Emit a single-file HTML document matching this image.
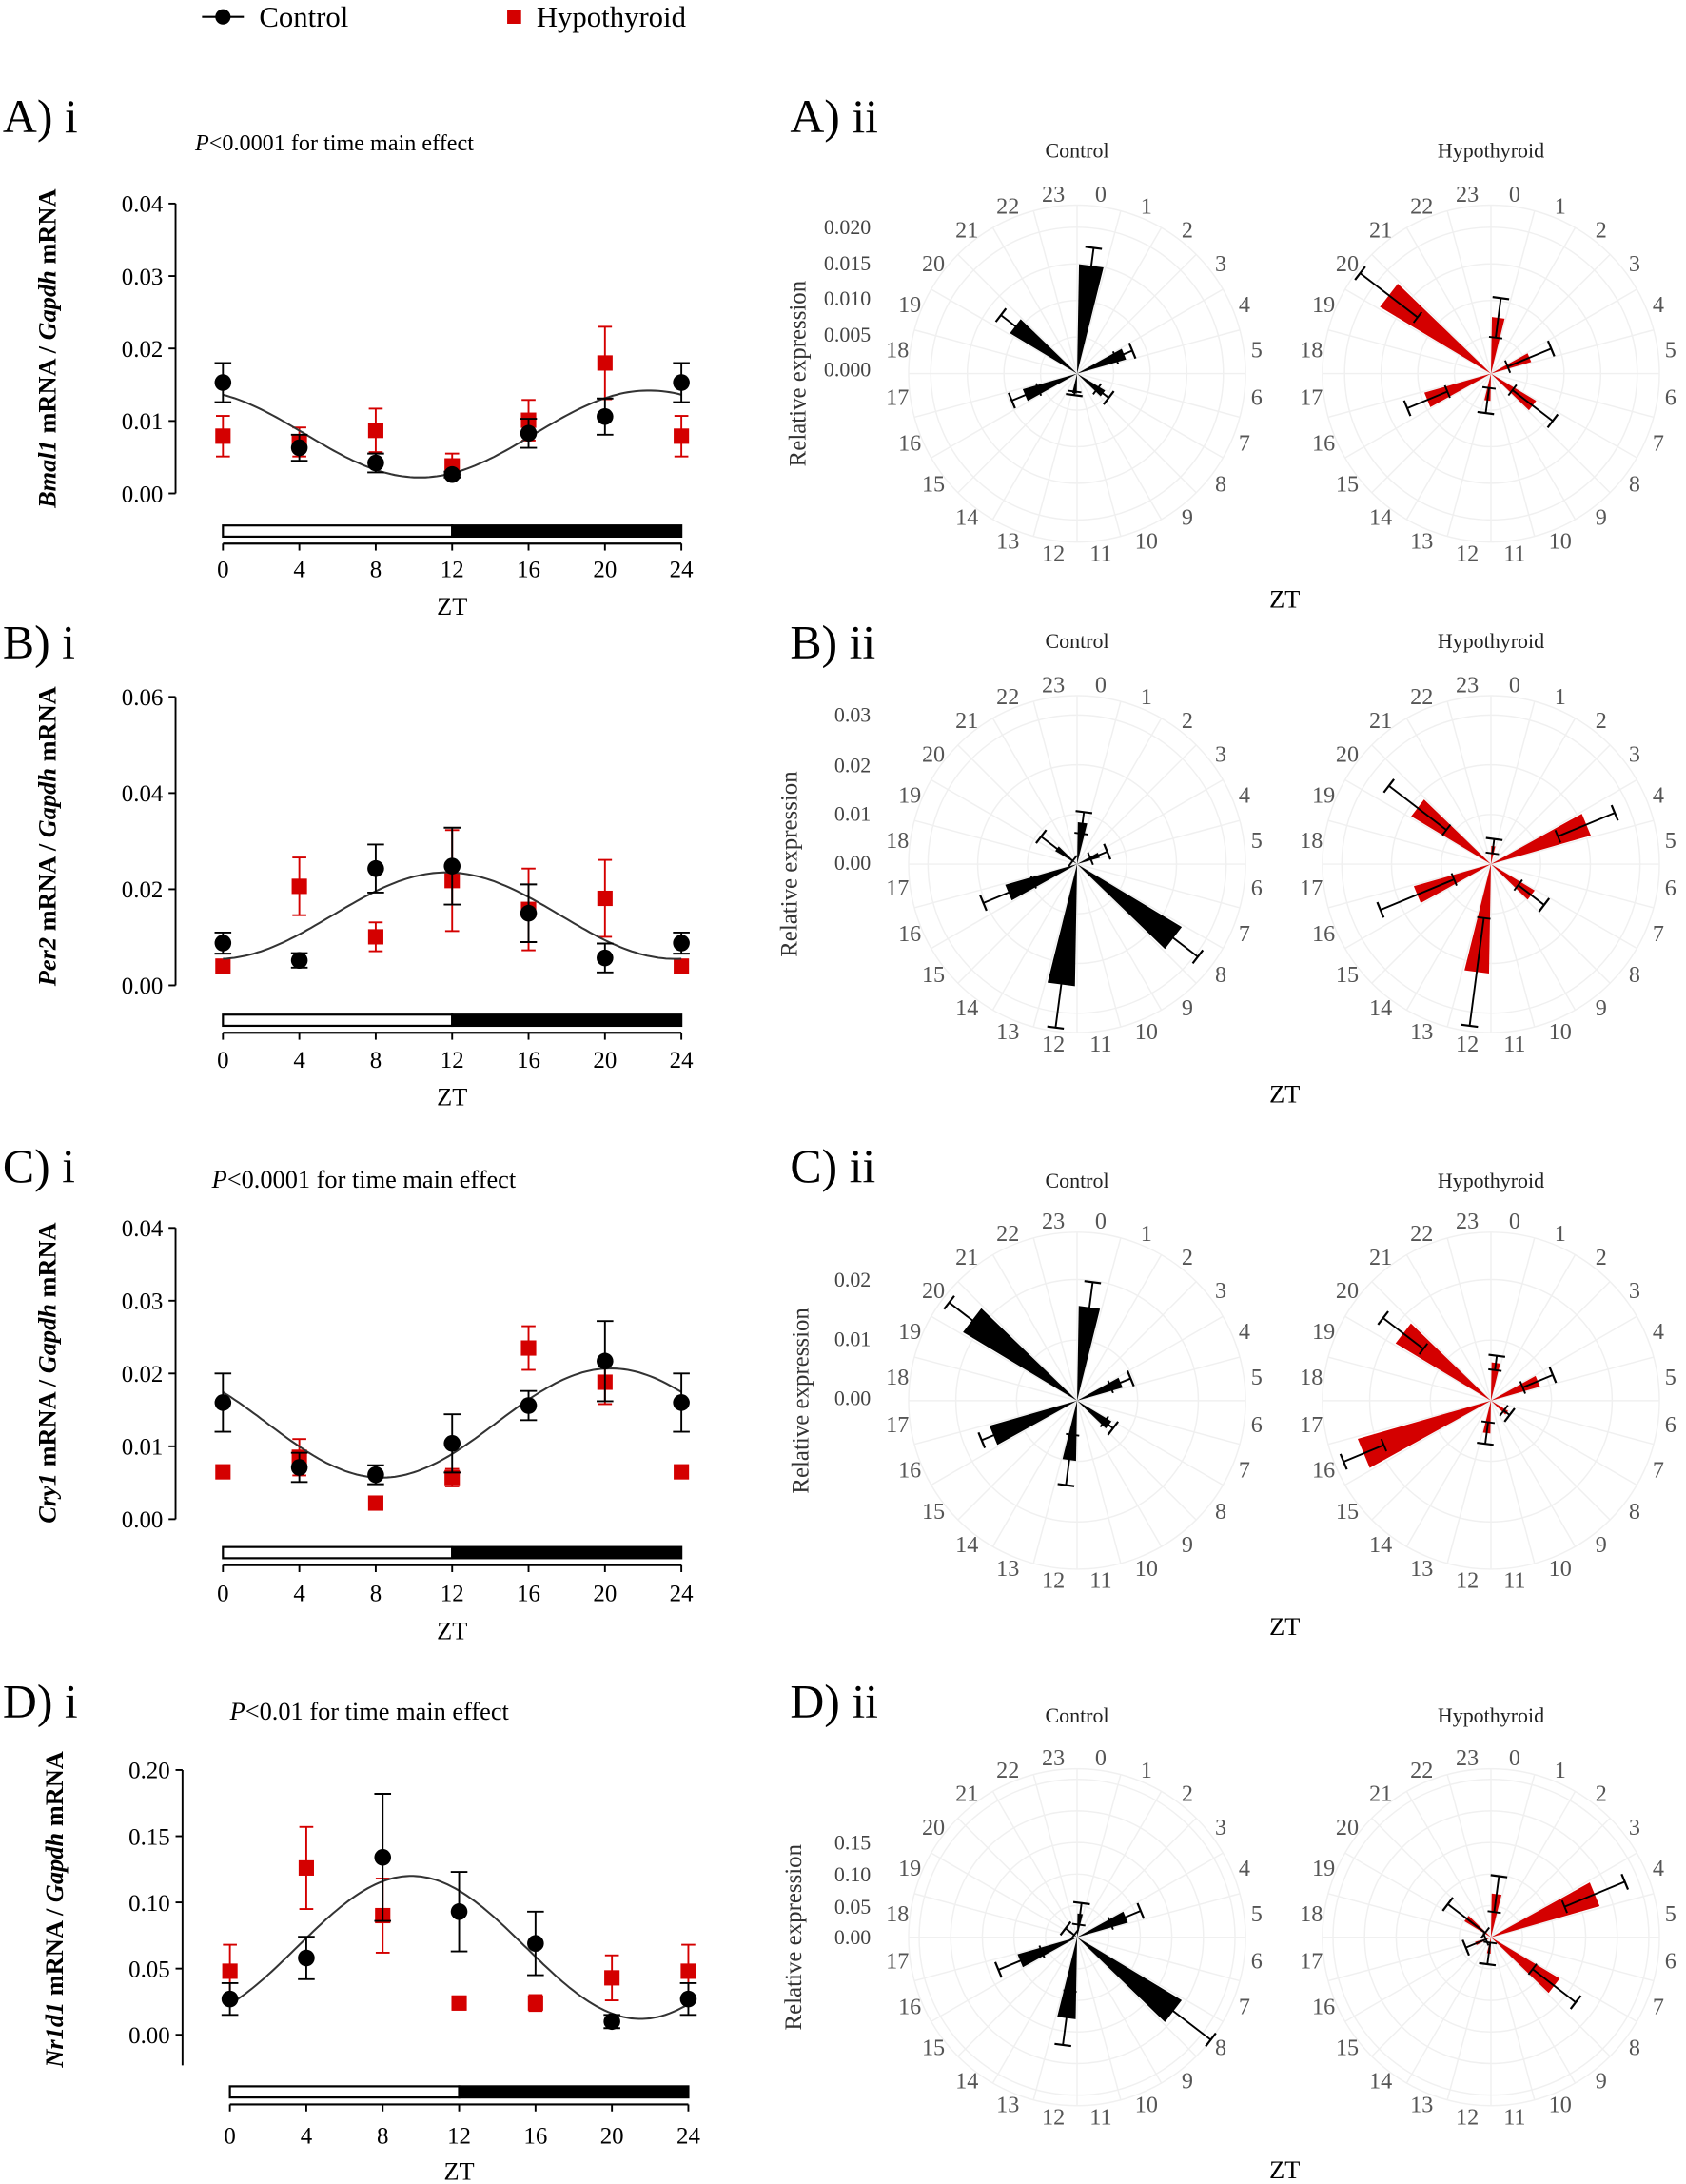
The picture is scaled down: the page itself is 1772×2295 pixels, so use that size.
<!DOCTYPE html>
<html><head><meta charset="utf-8"><style>
html,body{margin:0;padding:0;background:#fff}
svg{display:block}
text{font-family:"Liberation Serif",serif}
</style></head><body>
<svg id="s" width="1772" height="2295" viewBox="0 0 1210 1567" xmlns="http://www.w3.org/2000/svg"></svg>
<script>
const S=document.getElementById('s');let h='';
function t(x,y,s,str,o){o=o||{};h+=`<text x="${x}" y="${y}" font-size="${s}" fill="${o.f||'#000'}" text-anchor="${o.a||'start'}"${o.tr?` transform="${o.tr}"`:''}${o.w?` font-weight="${o.w}"`:''}>${str}</text>`;}
function l(x1,y1,x2,y2,c,w){h+=`<line x1="${x1}" y1="${y1}" x2="${x2}" y2="${y2}" stroke="${c||'#000'}" stroke-width="${w||1.3}"/>`;}
l(145,12,175,12,'#000',1.5);h+=`<circle cx="160" cy="12" r="5.5"/>`;t(186,19,21,'Control');
h+=`<rect x="364" y="7" width="10" height="10" fill="#d40000"/>`;t(385,19,21,'Hypothyroid');
const R='#d40000';
const panels=[
 {lab:'A) i',ly:95,ax:126,x0:160,x1:489,y0:354,ymax:.04,yt:[0,.01,.02,.03,.04],dec:2,top:146,bar:377,tl:408,zt:435,gene:'Bmal1',gy:250,
  p:['<tspan font-style="italic">P</tspan>&lt;0.0001 for time main effect',140,108,16.5],
  c:[[.0153,.0027],[.0063,.0018],[.0042,.0013],[.0026,.0004],[.0083,.002],[.0106,.0025],[.0153,.0027]],
  r:[[.0079,.0028],[.0071,.002],[.0087,.003],[.0038,.0017],[.0101,.0028],[.018,.005],[.0079,.0028]],
  cv:[.0082,.006,22.3]},
 {lab:'B) i',ly:472,ax:126,x0:160,x1:489,y0:707,ymax:.06,yt:[0,.02,.04,.06],dec:2,top:500,bar:728,tl:760,zt:787,gene:'Per2',gy:600,
  c:[[.0088,.0022],[.0052,.0015],[.0243,.005],[.0248,.008],[.015,.006],[.0057,.003],[.0088,.0022]],
  r:[[.004,.001],[.0206,.006],[.0101,.003],[.0218,.0105],[.0158,.0085],[.0181,.008],[.004,.001]],
  cv:[.0145,.009,11.7]},
 {lab:'C) i',ly:848,ax:126,x0:160,x1:489,y0:1090,ymax:.04,yt:[0,.01,.02,.03,.04],dec:2,top:881,bar:1110,tl:1143,zt:1170,gene:'Cry1',gy:985,
  p:['<tspan font-style="italic">P</tspan>&lt;0.0001 for time main effect',152,852,18],
  c:[[.016,.004],[.0071,.002],[.0061,.0013],[.0104,.004],[.0156,.002],[.0217,.0055],[.016,.004]],
  r:[[.0065,.0008],[.0085,.0025],[.0022,.0008],[.0057,.0012],[.0235,.003],[.0188,.003],[.0065,.0008]],
  cv:[.0132,.0075,20.3]},
 {lab:'D) i',ly:1232,ax:131,x0:165,x1:494,y0:1460,ymax:.2,yt:[0,.05,.1,.15,.2],dec:2,top:1270,bot:1482,bar:1497,tl:1532,zt:1558,gene:'Nr1d1',gy:1370,
  p:['<tspan font-style="italic">P</tspan>&lt;0.01 for time main effect',165,1234,18],
  c:[[.027,.012],[.058,.016],[.134,.048],[.093,.03],[.069,.024],[.01,.005],[.027,.012]],
  r:[[.048,.02],[.126,.031],[.09,.028],[.024,.005],[.024,.006],[.043,.017],[.048,.02]],
  cv:[.066,.054,9.5]}
];
panels.forEach(P=>{
 const X=z=>P.x0+(P.x1-P.x0)*z/24, Y=v=>P.y0-(P.y0-P.top)*v/P.ymax;
 t(2,P.ly,34,P.lab);
 if(P.p)h+=`<text x="${P.p[1]}" y="${P.p[2]}" font-size="${P.p[3]}">${P.p[0]}</text>`;
 l(P.ax,P.top,P.ax,P.bot||P.y0);
 P.yt.forEach(v=>{const y=Y(v);l(P.ax-5,y,P.ax,y);t(P.ax-9,y+6,17,v.toFixed(2),{a:'end'});});
 h+=`<text transform="translate(${P.ax-86},${P.gy}) rotate(-90)" font-size="18" font-weight="bold" text-anchor="middle"><tspan font-style="italic">${P.gene}</tspan> mRNA / <tspan font-style="italic">Gapdh</tspan> mRNA</text>`;
 h+=`<rect x="${P.x0}" y="${P.bar}" width="${X(12)-P.x0}" height="8" fill="#fff" stroke="#000" stroke-width="1.5"/>`;
 h+=`<rect x="${X(12)}" y="${P.bar}" width="${P.x1-X(12)}" height="8" fill="#000" stroke="#000" stroke-width="1.5"/>`;
 const ay=P.bar+13; l(P.x0,ay,P.x1,ay,'#000',1.5);
 for(let z=0;z<=24;z+=4){l(X(z),ay,X(z),ay+5);t(X(z),P.tl+6,17,z,{a:'middle'});}
 t((P.x0+P.x1)/2,P.zt+6,18,'ZT',{a:'middle'});
 let d='';for(let i=0;i<=120;i++){const z=i/5;const v=P.cv[0]+P.cv[1]*Math.cos((z-P.cv[2])/24*2*Math.PI);d+=(i?'L':'M')+X(z).toFixed(1)+','+Y(v).toFixed(1);}
 P.r.forEach((m,i)=>{const x=X(i*4);l(x,Y(m[0]-m[1]),x,Y(m[0]+m[1]),R,1.3);l(x-5,Y(m[0]+m[1]),x+5,Y(m[0]+m[1]),R);l(x-5,Y(m[0]-m[1]),x+5,Y(m[0]-m[1]),R);h+=`<rect x="${x-5.5}" y="${Y(m[0])-5.5}" width="11" height="11" fill="${R}"/>`;});
 h+=`<path d="${d}" fill="none" stroke="#333" stroke-width="1.4"/>`;
 P.c.forEach((m,i)=>{const x=X(i*4);l(x,Y(m[0]-m[1]),x,Y(m[0]+m[1]));l(x-6,Y(m[0]+m[1]),x+6,Y(m[0]+m[1]));l(x-6,Y(m[0]-m[1]),x+6,Y(m[0]-m[1]));h+=`<circle cx="${x}" cy="${Y(m[0])}" r="6"/>`;});
});
const polars=[
 {lab:'A) ii',ly:95,cy:268,ty:108,zt:430,ry:[[.02,163],[.015,189],[.01,214],[.005,240],[0,265]],fmt:3,rx:578,
  c:[[.60,.70],[.28,.33],[.18,.22],[.11,.12],[.31,.39],[.43,.53]],
  r:[[.31,.42],[.23,.36],[.29,.43],[.15,.22],[.38,.50],[.71,.91]]},
 {lab:'B) ii',ly:472,cy:620,ty:460,zt:785,ry:[[.03,513],[.02,549],[.01,584],[0,619]],fmt:2,rx:572,
  c:[[.23,.29],[.13,.18],[.67,.84],[.67,.91],[.41,.56],[.14,.25]],
  r:[[.10,.14],[.57,.74],[.28,.37],[.60,.90],[.44,.66],[.51,.71]]},
 {lab:'C) ii',ly:848,cy:1005,ty:847,zt:1167,ry:[[.02,918],[.01,961],[0,1003]],fmt:2,rx:580,
  c:[[.52,.66],[.26,.32],[.22,.25],[.33,.47],[.50,.57],[.73,.89]],
  r:[[.21,.25],[.28,.37],[.11,.13],[.18,.24],[.76,.88],[.61,.75]]},
 {lab:'D) ii',ly:1232,cy:1390,ty:1231,zt:1557,ry:[[.15,1322],[.1,1345],[.05,1368],[0,1390]],fmt:2,rx:575,
  c:[[.13,.19],[.29,.38],[.67,.93],[.45,.60],[.34,.47],[.05,.08]],
  r:[[.24,.34],[.62,.80],[.44,.59],[.09,.15],[.09,.15],[.17,.30]]}
];
const RL=130;
function pt(cx,cy,a,r){const rad=a*Math.PI/180;return [cx+r*Math.sin(rad),cy-r*Math.cos(rad)];}
polars.forEach(Q=>{
 t(567,Q.ly,34,Q.lab);
 t(922,Q.zt+6,18,'ZT',{a:'middle'});
 h+=`<text transform="translate(${Q.rx},${Q.cy}) rotate(-90)" font-size="17" fill="#333" text-anchor="middle">Relative expression</text>`;
 Q.ry.forEach(([v,y])=>t(625,y+5,15,v.toFixed(Q.fmt),{a:'end',f:'#444'}));
 const step=(Q.cy-Q.ry[0][1])/(Q.ry.length-1);
 [[773,'Control','c'],[1070,'Hypothyroid','r']].forEach(([cx,name,k])=>{
  t(cx,Q.ty+5,15,name,{a:'middle',f:'#222'});
  for(let r=step;r<=RL*0.93;r+=step)h+=`<circle cx="${cx}" cy="${Q.cy}" r="${r}" fill="none" stroke="#f0f0f0" stroke-width="1"/>`;
  h+=`<circle cx="${cx}" cy="${Q.cy}" r="${RL*0.93}" fill="none" stroke="#f0f0f0" stroke-width="1"/>`;
  for(let i=0;i<24;i++){const p=pt(cx,Q.cy,i*15,RL*0.93);l(cx,Q.cy,p[0].toFixed(1),p[1].toFixed(1),'#f0f0f0',1);}
  for(let i=0;i<24;i++){const p=pt(cx,Q.cy,i*15+7.5,RL);t(p[0].toFixed(1),(p[1]+5.5).toFixed(1),16.5,i,{a:'middle',f:'#555'});}
  const col=k=='c'?'#000':R;
  Q[k].forEach(([m,e],i)=>{const a=i*60+7.5,L=m*RL,E=e*RL;
   const p1=pt(cx,Q.cy,a-6.5,L/Math.cos(6.5*Math.PI/180)),p2=pt(cx,Q.cy,a+6.5,L/Math.cos(6.5*Math.PI/180));
   h+=`<path d="M${cx},${Q.cy}L${p1[0]},${p1[1]}L${p2[0]},${p2[1]}Z" fill="${col}"/>`;
   const lo=Math.max(2*L-E,0);const a1=pt(cx,Q.cy,a,lo),a2=pt(cx,Q.cy,a,E);l(a1[0],a1[1],a2[0],a2[1],'#000',1.3);
   const rad=a*Math.PI/180,ux=Math.cos(rad)*6,uy=Math.sin(rad)*6;
   l(a2[0]-ux,a2[1]-uy,a2[0]+ux,a2[1]+uy,'#000',1.5);l(a1[0]-ux*.8,a1[1]-uy*.8,a1[0]+ux*.8,a1[1]+uy*.8,'#000',1.3);
  });
 });
});
S.innerHTML=h;
</script>
</body></html>
